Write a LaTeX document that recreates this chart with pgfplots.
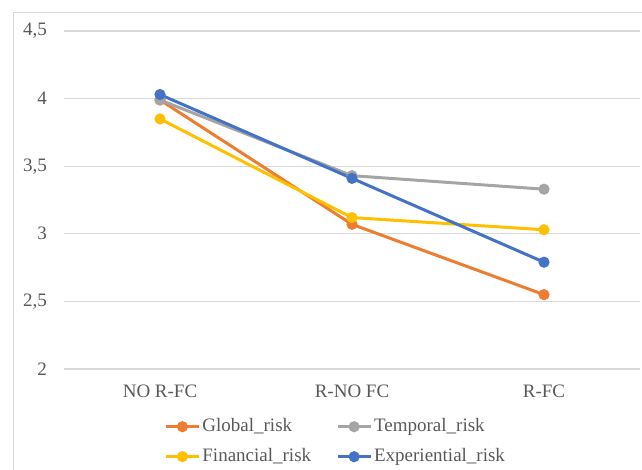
\documentclass[border=0pt]{standalone}
\usepackage{pgfplots}
\pgfplotsset{compat=1.18}
\usepackage{fontspec}
\setmainfont{Liberation Serif}

\definecolor{cglobal}{HTML}{ED7D31}
\definecolor{ctemporal}{HTML}{A5A5A5}
\definecolor{cfinancial}{HTML}{FFC000}
\definecolor{cexper}{HTML}{4472C4}
\definecolor{gridc}{HTML}{D9D9D9}
\definecolor{txt}{HTML}{595959}

\begin{document}
\begin{tikzpicture}
	\useasboundingbox (0pt,0pt) rectangle (642pt,469pt);
	% chart area frame
	\draw[gridc, line width=1pt] (13pt,-20pt) -- (13pt,456pt) -- (660pt,456pt);
	\begin{axis}[
		at={(64pt,100pt)},
		anchor=south west,
		scale only axis,
		width=576pt,
		height=338pt,
		xmin=-0.5, xmax=2.5,
		ymin=2, ymax=4.5,
		xtick={0,1,2},
		xticklabels={NO R-FC, R-NO FC, R-FC},
		ytick={2,2.5,3,3.5,4,4.5},
		axis line style={draw=none},
		major tick length=0pt,
		ymajorgrids,
		grid style={gridc, line width=1.3pt},
		/pgf/number format/use comma,
		/pgf/number format/assume math mode=true,
		tick label style={font=\fontsize{19}{22}\selectfont, text=txt, inner sep=0pt},
		yticklabel style={anchor=east, xshift=-17pt},
		xticklabel style={anchor=north, yshift=-16pt},
		clip=false,
		every axis plot/.append style={line width=3pt, mark=*, mark size=4pt},
		legend columns=2,
		legend cell align=left,
		legend style={
			at={(axis description cs:0.174,-0.142)},
			anchor=north west,
			draw=none, fill=none,
			inner sep=0pt,
			font=\fontsize{19}{22}\selectfont,
			text=txt,
			row sep=11pt,
			column sep=2pt,
			nodes={inner sep=0pt, text height=14pt, text depth=5pt},
			/tikz/every even column/.append style={column sep=25pt},
		},
		legend image code/.code={
			\draw[mark repeat=2, mark phase=2, #1] plot coordinates {(0pt,0pt) (16.5pt,0pt) (33pt,0pt)};
		},
	]
		\addplot[cglobal, mark options={fill=cglobal, draw=cglobal}] coordinates {(0,3.99) (1,3.07) (2,2.55)};
		\addlegendentry{Global\_risk}
		\addplot[ctemporal, mark options={fill=ctemporal, draw=ctemporal}] coordinates {(0,3.99) (1,3.43) (2,3.33)};
		\addlegendentry{Temporal\_risk}
		\addplot[cfinancial, mark options={fill=cfinancial, draw=cfinancial}] coordinates {(0,3.85) (1,3.12) (2,3.03)};
		\addlegendentry{Financial\_risk}
		\addplot[cexper, mark options={fill=cexper, draw=cexper}] coordinates {(0,4.03) (1,3.41) (2,2.79)};
		\addlegendentry{Experiential\_risk}
	\end{axis}
\end{tikzpicture}
\end{document}
